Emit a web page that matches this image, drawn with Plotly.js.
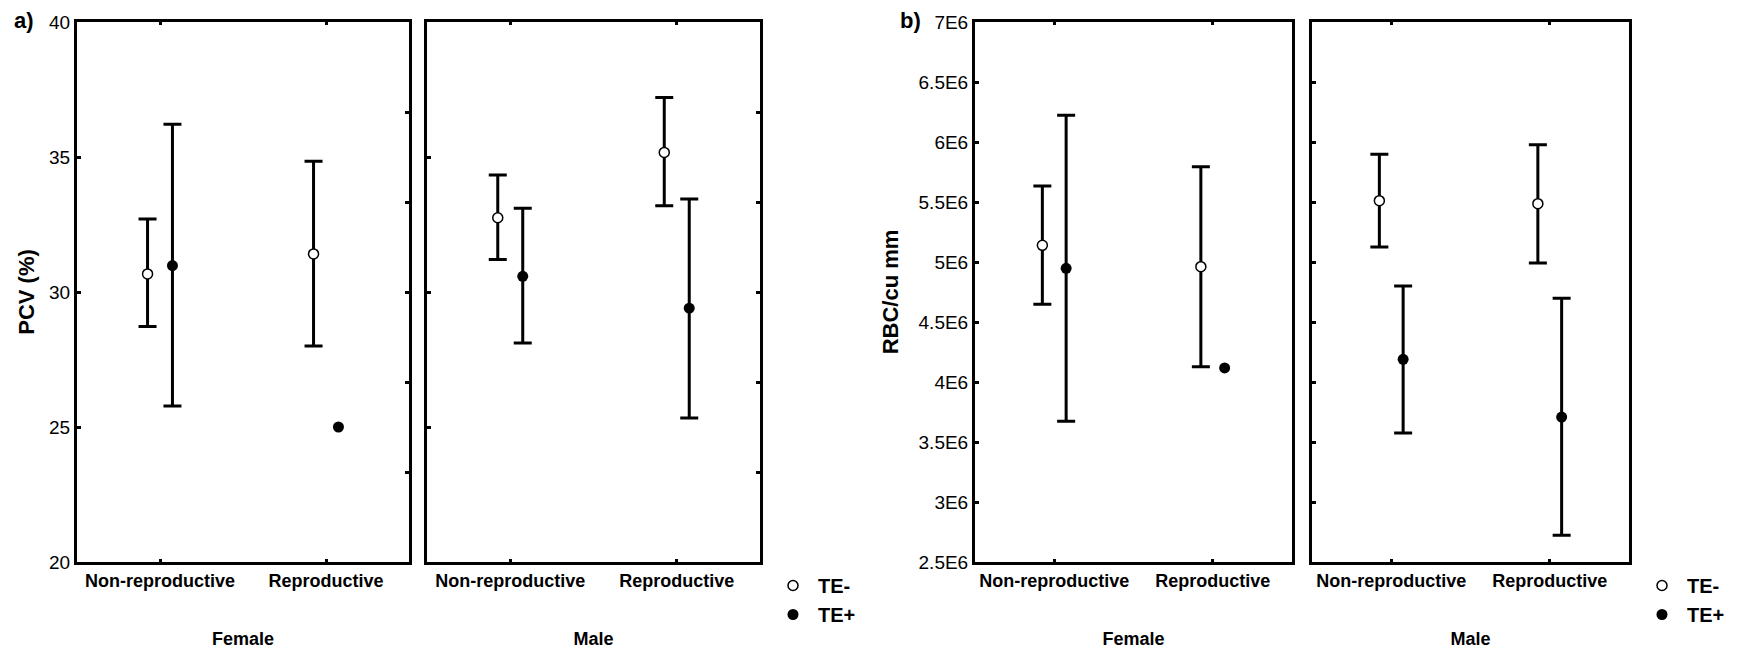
<!DOCTYPE html>
<html>
<head>
<meta charset="utf-8">
<script src="https://cdn.plot.ly/plotly-3.0.1.min.js"></script>
<style>
  html, body { margin: 0; padding: 0; background: #fff; }
  #chart { width: 1745px; height: 651px; }
</style>
</head>
<body>
<div id="chart"></div>
<script>
// Group categories on each panel's x axis
const categories = ['Non-reproductive', 'Reproductive'];

// a) PCV (%): means with upper / lower limits of the error bars
const pcvFemaleTEneg = [30.67, 31.41];
const pcvFemaleTEnegUpper = [32.70, 34.84];
const pcvFemaleTEnegLower = [28.72, 28.00];
const pcvFemaleTEpos = [30.98, 25.00];
const pcvFemaleTEposUpper = [36.21, null];
const pcvFemaleTEposLower = [25.78, null];

const pcvMaleTEneg = [32.75, 35.17];
const pcvMaleTEnegUpper = [34.33, 37.20];
const pcvMaleTEnegLower = [31.20, 33.19];
const pcvMaleTEpos = [30.58, 29.40];
const pcvMaleTEposUpper = [33.10, 33.44];
const pcvMaleTEposLower = [28.11, 25.33];

// b) RBC/cu mm
const rbcFemaleTEneg = [5.139e6, 4.961e6];
const rbcFemaleTEnegUpper = [5.633e6, 5.794e6];
const rbcFemaleTEnegLower = [4.647e6, 4.128e6];
const rbcFemaleTEpos = [4.947e6, 4.117e6];
const rbcFemaleTEposUpper = [6.222e6, null];
const rbcFemaleTEposLower = [3.672e6, null];

const rbcMaleTEneg = [5.511e6, 5.486e6];
const rbcMaleTEnegUpper = [5.897e6, 5.978e6];
const rbcMaleTEnegLower = [5.125e6, 4.992e6];
const rbcMaleTEpos = [4.189e6, 3.708e6];
const rbcMaleTEposUpper = [4.800e6, 4.697e6];
const rbcMaleTEposLower = [3.575e6, 2.722e6];

// Axis ticks
const pcvTicks = [20, 25, 30, 35, 40];
const pcvRightTicks = [70 / 3, 80 / 3, 30, 100 / 3, 110 / 3];
const rbcTicks = [2.5e6, 3e6, 3.5e6, 4e6, 4.5e6, 5e6, 5.5e6, 6e6, 6.5e6, 7e6];
const rbcTickText = ['2.5E6', '3E6', '3.5E6', '4E6', '4.5E6', '5E6', '5.5E6', '6E6', '6.5E6', '7E6'];

const FONT = 'Liberation Sans, Arial, sans-serif';
const W = 1745, H = 651;
const px = v => v / W;
const py = v => 1 - v / H;

// side-by-side offset of the two groups within a category
const shift = 0.075;
const catIndex = categories.map((c, i) => i);

function errArrays(mean, upper, lower) {
  return {
    type: 'data', symmetric: false, visible: true,
    array: mean.map((m, i) => upper[i] == null ? NaN : upper[i] - m),
    arrayminus: mean.map((m, i) => lower[i] == null ? NaN : m - lower[i]),
    color: '#000', thickness: 3, width: 9
  };
}

const negMarker = { symbol: 'circle', size: 10, color: '#fff', line: { color: '#000', width: 1.5 } };
const posMarker = { symbol: 'circle', size: 11, color: '#000', line: { color: '#000', width: 0 } };

function pair(xa, ya, neg, negU, negL, pos, posU, posL, legendName, show) {
  return [
    {
      type: 'scatter', mode: 'markers', name: 'TE-',
      x: catIndex.map(i => i - shift), y: neg,
      error_y: errArrays(neg, negU, negL),
      marker: negMarker, xaxis: xa, yaxis: ya,
      legend: legendName, showlegend: show, hoverinfo: 'y'
    },
    {
      type: 'scatter', mode: 'markers', name: 'TE+',
      x: catIndex.map(i => i + shift), y: pos,
      error_y: errArrays(pos, posU, posL),
      marker: posMarker, xaxis: xa, yaxis: ya,
      legend: legendName, showlegend: show, hoverinfo: 'y'
    }
  ];
}

// empty trace that puts the right-hand tick axis on its panel
function frameTrace(xa, ya) {
  return { type: 'scatter', mode: 'markers', x: [], y: [], xaxis: xa, yaxis: ya,
           showlegend: false, hoverinfo: 'skip' };
}

const data = [
  ...pair('x', 'y', pcvFemaleTEneg, pcvFemaleTEnegUpper, pcvFemaleTEnegLower,
          pcvFemaleTEpos, pcvFemaleTEposUpper, pcvFemaleTEposLower, 'legend', false),
  ...pair('x2', 'y2', pcvMaleTEneg, pcvMaleTEnegUpper, pcvMaleTEnegLower,
          pcvMaleTEpos, pcvMaleTEposUpper, pcvMaleTEposLower, 'legend', true),
  ...pair('x3', 'y5', rbcFemaleTEneg, rbcFemaleTEnegUpper, rbcFemaleTEnegLower,
          rbcFemaleTEpos, rbcFemaleTEposUpper, rbcFemaleTEposLower, 'legend2', false),
  ...pair('x4', 'y6', rbcMaleTEneg, rbcMaleTEnegUpper, rbcMaleTEnegLower,
          rbcMaleTEpos, rbcMaleTEposUpper, rbcMaleTEposLower, 'legend2', true),
  frameTrace('x', 'y3'),
  frameTrace('x2', 'y4')
];

const yDomain = [py(562), py(22)];

function catAxis(domain, anchor, title) {
  return {
    domain: domain, anchor: anchor, range: [-0.5, 1.5],
    tickvals: catIndex, ticktext: categories,
    ticks: 'inside', ticklen: 3, tickwidth: 3, tickcolor: '#000',
    showline: true, linewidth: 3, linecolor: '#000', mirror: 'ticks',
    showgrid: false, zeroline: false, fixedrange: true,
    tickfont: { family: FONT, size: 18, color: '#000', weight: 'bold' },
    title: { text: title, font: { family: FONT, size: 18, color: '#000', weight: 'bold' }, standoff: 43 }
  };
}

function valAxis(anchor, range, tickvals, ticktext, showLabels, title, standoff) {
  const ax = {
    domain: yDomain, anchor: anchor, range: range,
    tickmode: 'array', tickvals: tickvals,
    ticks: 'inside', ticklen: 4, tickwidth: 3, tickcolor: '#000',
    showticklabels: showLabels,
    showline: true, linewidth: 3, linecolor: '#000', mirror: true,
    showgrid: false, zeroline: false, fixedrange: true,
    tickfont: { family: FONT, size: 19, color: '#000' }
  };
  if (ticktext) ax.ticktext = ticktext;
  if (title) ax.title = { text: title, font: { family: FONT, size: 22, color: '#000', weight: 'bold' }, standoff: standoff };
  return ax;
}

function rightTickAxis(over, anchor, range, tickvals) {
  return {
    overlaying: over, anchor: anchor, side: 'right', range: range,
    tickmode: 'array', tickvals: tickvals,
    ticks: 'inside', ticklen: 4, tickwidth: 3, tickcolor: '#000',
    showticklabels: false,
    showline: true, linewidth: 3, linecolor: '#000',
    showgrid: false, zeroline: false, fixedrange: true
  };
}

const pcvRange = [20, 40];
const rbcRange = [2.5e6, 7e6];

const legendStyle = {
  font: { family: FONT, size: 20, color: '#000', weight: 'bold' },
  bgcolor: 'rgba(0,0,0,0)', borderwidth: 0,
  xanchor: 'left', yanchor: 'top', itemwidth: 40, tracegroupgap: 0
};

const layout = {
  width: W, height: H,
  margin: { l: 0, r: 0, t: 0, b: 0 },
  paper_bgcolor: '#fff', plot_bgcolor: '#fff',
  font: { family: FONT, color: '#000' },
  showlegend: true,
  xaxis: catAxis([px(77), px(409)], 'y', 'Female'),
  xaxis2: catAxis([px(427), px(760)], 'y2', 'Male'),
  xaxis3: catAxis([px(975), px(1292)], 'y5', 'Female'),
  xaxis4: catAxis([px(1312), px(1629)], 'y6', 'Male'),
  yaxis: valAxis('x', pcvRange, pcvTicks, null, true, 'PCV (%)', 9),
  yaxis2: valAxis('x2', pcvRange, pcvTicks, null, false, null),
  yaxis3: rightTickAxis('y', 'x', pcvRange, pcvRightTicks),
  yaxis4: rightTickAxis('y2', 'x2', pcvRange, pcvRightTicks),
  yaxis5: valAxis('x3', rbcRange, rbcTicks, rbcTickText, true, 'RBC/cu mm', 14),
  yaxis6: valAxis('x4', rbcRange, rbcTicks, rbcTickText, false, null),
  legend: Object.assign({ x: px(768), y: py(566) }, legendStyle),
  legend2: Object.assign({ x: px(1637), y: py(566) }, legendStyle),
  annotations: [
    { text: 'a)', xref: 'paper', yref: 'paper', x: px(12), y: py(20),
      xanchor: 'left', yanchor: 'middle', showarrow: false,
      font: { family: FONT, size: 22, color: '#000', weight: 'bold' } },
    { text: 'b)', xref: 'paper', yref: 'paper', x: px(898), y: py(20),
      xanchor: 'left', yanchor: 'middle', showarrow: false,
      font: { family: FONT, size: 22, color: '#000', weight: 'bold' } }
  ]
};

Plotly.newPlot('chart', data, layout, { displayModeBar: false, staticPlot: true });
</script>
</body>
</html>
